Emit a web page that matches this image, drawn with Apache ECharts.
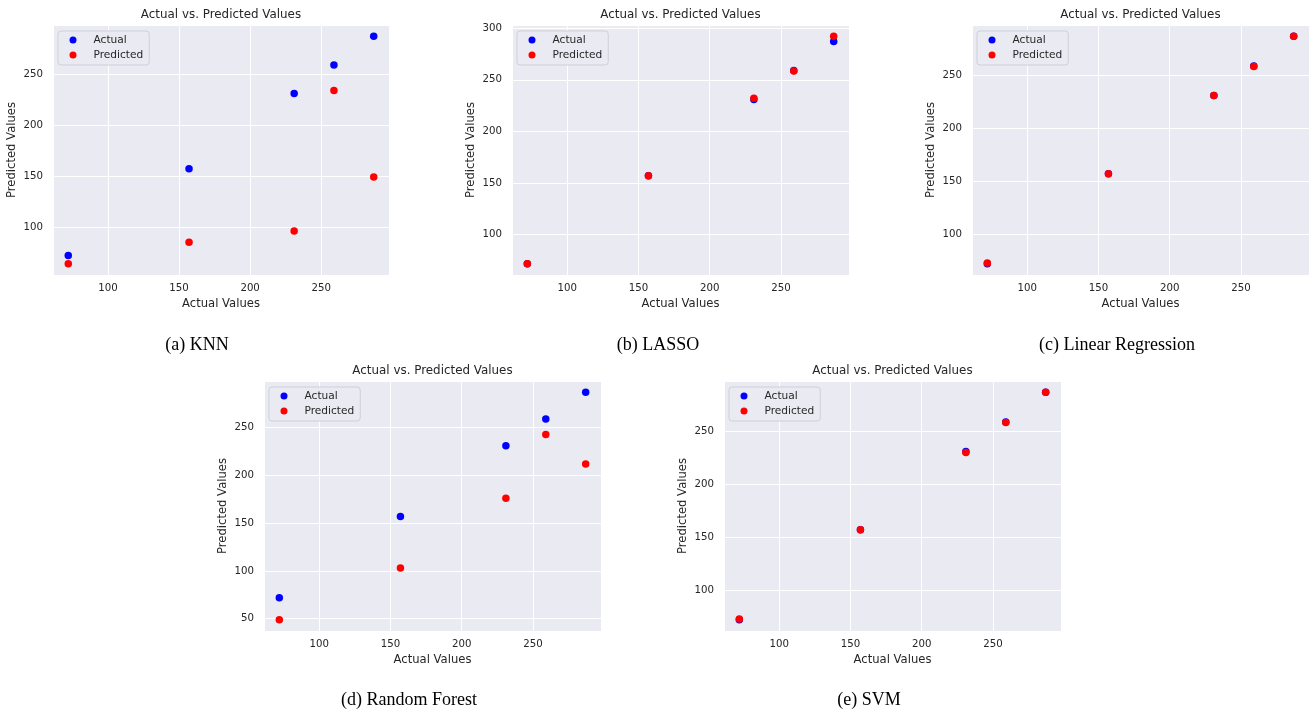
<!DOCTYPE html>
<html>
<head>
<meta charset="utf-8">
<script src="https://cdn.jsdelivr.net/npm/echarts@6/dist/echarts.min.js"></script>
<style>
  html, body { margin: 0; padding: 0; background: #fff; }
  #main { width: 1316px; height: 713px; }
</style>
</head>
<body>
<div id="main"></div>
<script>
// 数据
var actualVals  = [72, 157, 231, 259, 287];
var knnPred     = [64, 85, 96, 234, 149];
var lassoPred   = [72, 157, 232, 258.5, 292];
var linregPred  = [72.5, 157, 231, 258.5, 287];
var rfPred      = [49, 103, 176, 243, 212];
var svmPred     = [72.5, 157, 230, 258.5, 287];
var panelNames  = ['KNN', 'LASSO', 'Linear Regression', 'Random Forest', 'SVM'];
var panelTags   = ['a', 'b', 'c', 'd', 'e'];
var predLists   = [knnPred, lassoPred, linregPred, rfPred, svmPred];
var legendNames = ['Actual', 'Predicted'];

var chart = echarts.init(document.getElementById('main'));

// 各子图位置
var boxes = [
  { left: 53,  top: 25,  width: 336, height: 250 },
  { left: 512, top: 25,  width: 337, height: 250 },
  { left: 972, top: 25,  width: 337, height: 250 },
  { left: 264, top: 381, width: 337, height: 250 },
  { left: 724, top: 381, width: 337, height: 250 }
];
var textColor = '#262626';
var font = 'DejaVu Sans';

function pad(lo, hi) {
  var m = (hi - lo) * 0.05;
  return [lo - m, hi + m];
}

var grids = [], xAxes = [], yAxes = [], series = [], legends = [], graphics = [];

for (var i = 0; i < boxes.length; i++) {
  var b = boxes[i];
  var pred = predLists[i];
  var xr = pad(Math.min.apply(null, actualVals), Math.max.apply(null, actualVals));
  var allY = actualVals.concat(pred);
  var yr = pad(Math.min.apply(null, allY), Math.max.apply(null, allY));

  grids.push({
    left: b.left, top: b.top, width: b.width, height: b.height,
    show: true, backgroundColor: '#EAEAF2', borderWidth: 0
  });

  var axisCommon = {
    type: 'value',
    gridIndex: i,
    axisLine: { show: false },
    axisTick: { show: false },
    splitLine: { show: true, lineStyle: { color: '#ffffff', width: 1 } },
    nameLocation: 'middle',
    nameTextStyle: { fontFamily: font, fontSize: 11.6, color: textColor }
  };
  xAxes.push(Object.assign({}, axisCommon, {
    min: xr[0], max: xr[1],
    name: 'Actual Values', nameGap: 23,
    axisLabel: { fontFamily: font, fontSize: 10.2, color: textColor, margin: 8,
                 showMinLabel: false, showMaxLabel: false }
  }));
  yAxes.push(Object.assign({}, axisCommon, {
    min: yr[0], max: yr[1],
    name: 'Predicted Values', nameGap: 35,
    axisLabel: { fontFamily: font, fontSize: 10.2, color: textColor, margin: 10,
                 showMinLabel: false, showMaxLabel: false }
  }));

  var actData = [], predData = [];
  for (var k = 0; k < actualVals.length; k++) {
    actData.push([actualVals[k], actualVals[k]]);
    predData.push([actualVals[k], pred[k]]);
  }
  series.push({
    name: legendNames[0], type: 'scatter', xAxisIndex: i, yAxisIndex: i,
    data: actData, symbolSize: 7.5, itemStyle: { color: '#0000ff', opacity: 1 }
  });
  series.push({
    name: legendNames[1], type: 'scatter', xAxisIndex: i, yAxisIndex: i,
    data: predData, symbolSize: 7.5, itemStyle: { color: '#ff0000', opacity: 1 }
  });

  legends.push({
    data: legendNames,
    orient: 'vertical',
    left: b.left + 5, top: b.top + 6,
    padding: [3, 6, 4, 11.5],
    itemWidth: 7, itemHeight: 7, itemGap: 3,
    icon: 'circle',
    backgroundColor: '#EAEAF2',
    borderColor: '#cfcfd6', borderWidth: 1, borderRadius: 3,
    textStyle: { fontFamily: font, fontSize: 10.6, color: textColor, lineHeight: 12,
                 padding: [0, 0, 0, 12] },
    selectedMode: false
  });

  // 标题
  graphics.push({
    type: 'text', x: b.left + b.width / 2, y: b.top - 10,
    style: { text: 'Actual vs. Predicted Values', fill: textColor,
             font: '11.9px "DejaVu Sans"', align: 'center', verticalAlign: 'middle',
             textAlign: 'center', textVerticalAlign: 'middle' }
  });
}

// 子图说明
var captionPos = [[197, 345], [658, 345], [1117, 345], [409, 700], [869, 700]];
for (var j = 0; j < panelNames.length; j++) {
  graphics.push({
    type: 'text', x: captionPos[j][0], y: captionPos[j][1],
    style: { text: '(' + panelTags[j] + ') ' + panelNames[j], fill: '#000000',
             font: '18px "Liberation Serif"', align: 'center', verticalAlign: 'middle',
             textAlign: 'center', textVerticalAlign: 'middle' }
  });
}

var option = {
  backgroundColor: '#ffffff',
  animation: false,
  grid: grids,
  xAxis: xAxes,
  yAxis: yAxes,
  legend: legends,
  graphic: graphics,
  series: series
};
chart.setOption(option, true);
</script>
</body>
</html>
